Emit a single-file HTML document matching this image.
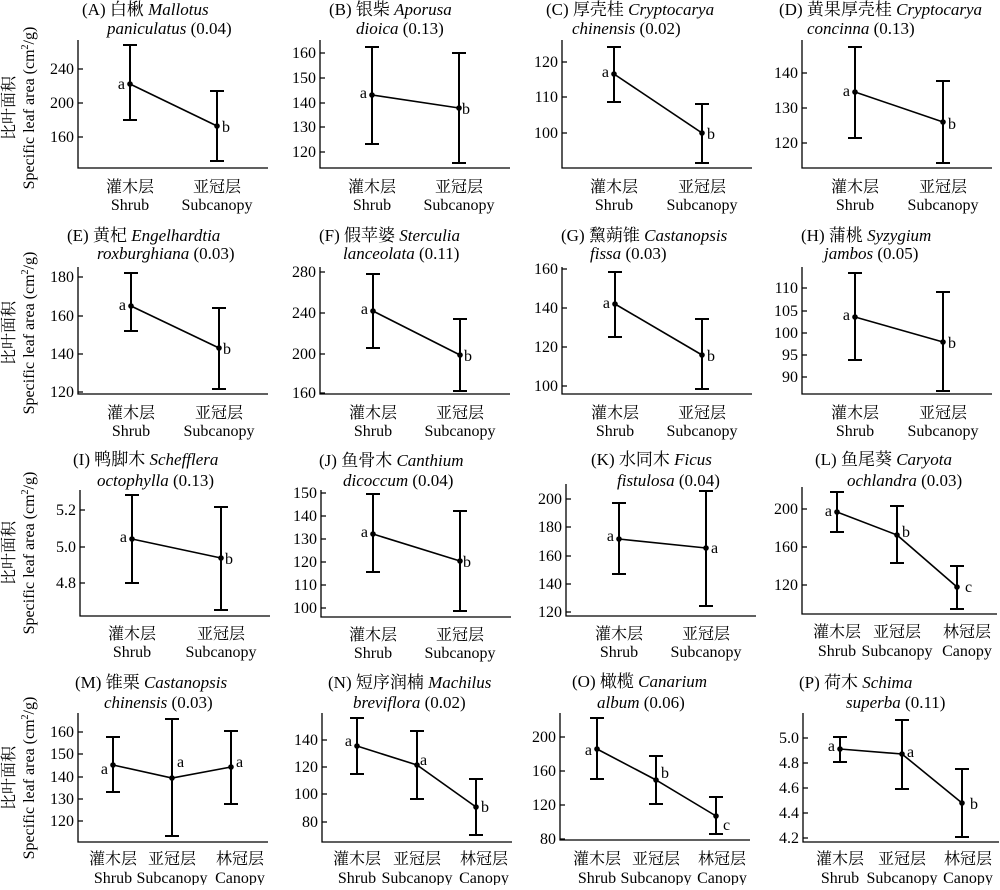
<!DOCTYPE html>
<html><head><meta charset="utf-8"><style>
html,body{margin:0;padding:0;background:#fff}
svg text{font-family:"Liberation Serif","Noto Serif CJK SC",serif;font-size:16px;fill:#000}
svg text.h{font-size:17px}
.t{text-anchor:end}
.m{text-anchor:middle}
.ax{fill:none;stroke:#000;stroke-width:1.3}
.eb{fill:none;stroke:#000;stroke-width:2}
.ln{fill:none;stroke:#000;stroke-width:1.6}
</style></head><body>
<svg width="1000" height="885" viewBox="0 0 1000 885" xmlns="http://www.w3.org/2000/svg">
<g class="m">
<text class="m" transform="translate(14,108) rotate(-90)">比叶面积</text>
<text class="m" transform="translate(34,108) rotate(-90)">Specific leaf area (cm<tspan font-size="10" dy="-6">2</tspan><tspan dy="6">/g)</tspan></text>
<text class="m" transform="translate(14,333) rotate(-90)">比叶面积</text>
<text class="m" transform="translate(34,333) rotate(-90)">Specific leaf area (cm<tspan font-size="10" dy="-6">2</tspan><tspan dy="6">/g)</tspan></text>
<text class="m" transform="translate(14,553) rotate(-90)">比叶面积</text>
<text class="m" transform="translate(34,553) rotate(-90)">Specific leaf area (cm<tspan font-size="10" dy="-6">2</tspan><tspan dy="6">/g)</tspan></text>
<text class="m" transform="translate(14,778) rotate(-90)">比叶面积</text>
<text class="m" transform="translate(34,778) rotate(-90)">Specific leaf area (cm<tspan font-size="10" dy="-6">2</tspan><tspan dy="6">/g)</tspan></text>
</g>

<!-- A -->
<text class="h" x="82" y="15">(A) 白楸 <tspan font-style="italic">Mallotus</tspan></text>
<text class="h" x="107" y="34"><tspan font-style="italic">paniculatus</tspan> (0.04)</text>
<path class="ax" d="M78,40V168H268M78,69h5M78,103h5M78,137h5"/>
<text class="t" x="74" y="74">240</text><text class="t" x="74" y="108">200</text><text class="t" x="74" y="142">160</text>
<path class="eb" d="M130,45V120M123,45h14M123,120h14M217,91V161M210,91h14M210,161h14"/>
<path class="ln" d="M130,84L217,126"/><circle cx="130" cy="84" r="2.8"/><circle cx="217" cy="126" r="2.8"/>
<text class="t" x="125" y="89">a</text><text x="222" y="132">b</text>
<text class="m" x="130" y="192">灌木层</text><text class="m" x="130" y="210">Shrub</text>
<text class="m" x="217" y="192">亚冠层</text><text class="m" x="217" y="210">Subcanopy</text>

<!-- B -->
<text class="h" x="329" y="15">(B) 银柴 <tspan font-style="italic">Aporusa</tspan></text>
<text class="h" x="356" y="34"><tspan font-style="italic">dioica</tspan> (0.13)</text>
<path class="ax" d="M320,40V168H510M320,53h5M320,78h5M320,103h5M320,127h5M320,152h5"/>
<text class="t" x="316" y="58">160</text><text class="t" x="316" y="83">150</text><text class="t" x="316" y="108">140</text><text class="t" x="316" y="132">130</text><text class="t" x="316" y="157">120</text>
<path class="eb" d="M372,47V144M365,47h14M365,144h14M459,53V163M452,53h14M452,163h14"/>
<path class="ln" d="M372,95L459,108"/><circle cx="372" cy="95" r="2.8"/><circle cx="459" cy="108" r="2.8"/>
<text class="t" x="367" y="98">a</text><text x="462" y="114">b</text>
<text class="m" x="372" y="192">灌木层</text><text class="m" x="372" y="210">Shrub</text>
<text class="m" x="459" y="192">亚冠层</text><text class="m" x="459" y="210">Subcanopy</text>

<!-- C -->
<text class="h" x="546" y="15">(C) 厚壳桂 <tspan font-style="italic">Cryptocarya</tspan></text>
<text class="h" x="572" y="34"><tspan font-style="italic">chinensis</tspan> (0.02)</text>
<path class="ax" d="M562,40V168H752M562,62h5M562,97h5M562,133h5"/>
<text class="t" x="558" y="67">120</text><text class="t" x="558" y="102">110</text><text class="t" x="558" y="138">100</text>
<path class="eb" d="M614,47V102M607,47h14M607,102h14M702,104V163M695,104h14M695,163h14"/>
<path class="ln" d="M614,74L702,133"/><circle cx="614" cy="74" r="2.8"/><circle cx="702" cy="133" r="2.8"/>
<text class="t" x="609" y="77">a</text><text x="707" y="139">b</text>
<text class="m" x="614" y="192">灌木层</text><text class="m" x="614" y="210">Shrub</text>
<text class="m" x="702" y="192">亚冠层</text><text class="m" x="702" y="210">Subcanopy</text>

<!-- D -->
<text class="h" x="779" y="15">(D) 黄果厚壳桂 <tspan font-style="italic">Cryptocarya</tspan></text>
<text class="h" x="807" y="34"><tspan font-style="italic">concinna</tspan> (0.13)</text>
<path class="ax" d="M802,40V168H992M802,73h5M802,108h5M802,143h5"/>
<text class="t" x="798" y="78">140</text><text class="t" x="798" y="113">130</text><text class="t" x="798" y="148">120</text>
<path class="eb" d="M855,47V138M848,47h14M848,138h14M943,81V163M936,81h14M936,163h14"/>
<path class="ln" d="M855,92L943,122"/><circle cx="855" cy="92" r="2.8"/><circle cx="943" cy="122" r="2.8"/>
<text class="t" x="850" y="96">a</text><text x="948" y="129">b</text>
<text class="m" x="855" y="192">灌木层</text><text class="m" x="855" y="210">Shrub</text>
<text class="m" x="943" y="192">亚冠层</text><text class="m" x="943" y="210">Subcanopy</text>

<!-- E -->
<text class="h" x="67" y="241">(E) 黄杞 <tspan font-style="italic">Engelhardtia</tspan></text>
<text class="h" x="97" y="259"><tspan font-style="italic">roxburghiana</tspan> (0.03)</text>
<path class="ax" d="M78,267V394H268M78,277h5M78,316h5M78,354h5M78,392h5"/>
<text class="t" x="74" y="282">180</text><text class="t" x="74" y="321">160</text><text class="t" x="74" y="359">140</text><text class="t" x="74" y="397">120</text>
<path class="eb" d="M131,273V331M124,273h14M124,331h14M219,308V389M212,308h14M212,389h14"/>
<path class="ln" d="M131,306L219,348"/><circle cx="131" cy="306" r="2.8"/><circle cx="219" cy="348" r="2.8"/>
<text class="t" x="126" y="310">a</text><text x="223" y="354">b</text>
<text class="m" x="131" y="418">灌木层</text><text class="m" x="131" y="436">Shrub</text>
<text class="m" x="219" y="418">亚冠层</text><text class="m" x="219" y="436">Subcanopy</text>

<!-- F -->
<text class="h" x="319" y="241">(F) 假苹婆 <tspan font-style="italic">Sterculia</tspan></text>
<text class="h" x="343" y="259"><tspan font-style="italic">lanceolata</tspan> (0.11)</text>
<path class="ax" d="M320,267V394H510M320,272h5M320,313h5M320,354h5M320,393h5"/>
<text class="t" x="316" y="277">280</text><text class="t" x="316" y="318">240</text><text class="t" x="316" y="359">200</text><text class="t" x="316" y="398">160</text>
<path class="eb" d="M373,274V348M366,274h14M366,348h14M460,319V391M453,319h14M453,391h14"/>
<path class="ln" d="M373,311L460,355"/><circle cx="373" cy="311" r="2.8"/><circle cx="460" cy="355" r="2.8"/>
<text class="t" x="368" y="314">a</text><text x="464" y="361">b</text>
<text class="m" x="373" y="418">灌木层</text><text class="m" x="373" y="436">Shrub</text>
<text class="m" x="460" y="418">亚冠层</text><text class="m" x="460" y="436">Subcanopy</text>

<!-- G -->
<text class="h" x="561" y="241">(G) 黧蒴锥 <tspan font-style="italic">Castanopsis</tspan></text>
<text class="h" x="590" y="259"><tspan font-style="italic">fissa</tspan> (0.03)</text>
<path class="ax" d="M562,267V394H752M562,269h5M562,308h5M562,347h5M562,386h5"/>
<text class="t" x="558" y="274">160</text><text class="t" x="558" y="313">140</text><text class="t" x="558" y="352">120</text><text class="t" x="558" y="391">100</text>
<path class="eb" d="M615,272V337M608,272h14M608,337h14M702,319V389M695,319h14M695,389h14"/>
<path class="ln" d="M615,304L702,355"/><circle cx="615" cy="304" r="2.8"/><circle cx="702" cy="355" r="2.8"/>
<text class="t" x="610" y="308">a</text><text x="707" y="361">b</text>
<text class="m" x="615" y="418">灌木层</text><text class="m" x="615" y="436">Shrub</text>
<text class="m" x="702" y="418">亚冠层</text><text class="m" x="702" y="436">Subcanopy</text>

<!-- H -->
<text class="h" x="801" y="241">(H) 蒲桃 <tspan font-style="italic">Syzygium</tspan></text>
<text class="h" x="824" y="259"><tspan font-style="italic">jambos</tspan> (0.05)</text>
<path class="ax" d="M802,267V394H992M802,288h5M802,311h5M802,333h5M802,355h5M802,377h5"/>
<text class="t" x="798" y="293">110</text><text class="t" x="798" y="316">105</text><text class="t" x="798" y="338">100</text><text class="t" x="798" y="360">95</text><text class="t" x="798" y="382">90</text>
<path class="eb" d="M855,273V360M848,273h14M848,360h14M943,292V391M936,292h14M936,391h14"/>
<path class="ln" d="M855,317L943,342"/><circle cx="855" cy="317" r="2.8"/><circle cx="943" cy="342" r="2.8"/>
<text class="t" x="850" y="320">a</text><text x="948" y="348">b</text>
<text class="m" x="855" y="418">灌木层</text><text class="m" x="855" y="436">Shrub</text>
<text class="m" x="943" y="418">亚冠层</text><text class="m" x="943" y="436">Subcanopy</text>

<!-- I -->
<text class="h" x="73" y="465">(I) 鸭脚木 <tspan font-style="italic">Schefflera</tspan></text>
<text class="h" x="97" y="486"><tspan font-style="italic">octophylla</tspan> (0.13)</text>
<path class="ax" d="M80,490V616H270M80,510h5M80,547h5M80,583h5"/>
<text class="t" x="76" y="515">5.2</text><text class="t" x="76" y="552">5.0</text><text class="t" x="76" y="588">4.8</text>
<path class="eb" d="M132,495V583M125,495h14M125,583h14M221,507V610M214,507h14M214,610h14"/>
<path class="ln" d="M132,539L221,558"/><circle cx="132" cy="539" r="2.8"/><circle cx="221" cy="558" r="2.8"/>
<text class="t" x="127" y="542">a</text><text x="225" y="564">b</text>
<text class="m" x="132" y="639">灌木层</text><text class="m" x="132" y="657">Shrub</text>
<text class="m" x="221" y="639">亚冠层</text><text class="m" x="221" y="657">Subcanopy</text>

<!-- J -->
<text class="h" x="319" y="466">(J) 鱼骨木 <tspan font-style="italic">Canthium</tspan></text>
<text class="h" x="343" y="486"><tspan font-style="italic">dicoccum</tspan> (0.04)</text>
<path class="ax" d="M321,490V617H511M321,493h5M321,516h5M321,539h5M321,562h5M321,585h5M321,608h5"/>
<text class="t" x="317" y="498">150</text><text class="t" x="317" y="521">140</text><text class="t" x="317" y="544">130</text><text class="t" x="317" y="567">120</text><text class="t" x="317" y="590">110</text><text class="t" x="317" y="613">100</text>
<path class="eb" d="M373,494V572M366,494h14M366,572h14M460,511V611M453,511h14M453,611h14"/>
<path class="ln" d="M373,534L460,561"/><circle cx="373" cy="534" r="2.8"/><circle cx="460" cy="561" r="2.8"/>
<text class="t" x="368" y="537">a</text><text x="463" y="567">b</text>
<text class="m" x="373" y="640">灌木层</text><text class="m" x="373" y="658">Shrub</text>
<text class="m" x="460" y="640">亚冠层</text><text class="m" x="460" y="658">Subcanopy</text>

<!-- K -->
<text class="h" x="591" y="465">(K) 水同木 <tspan font-style="italic">Ficus</tspan></text>
<text class="h" x="617" y="486"><tspan font-style="italic">fistulosa</tspan> (0.04)</text>
<path class="ax" d="M566,484V616H756M566,499h5M566,527h5M566,556h5M566,584h5M566,612h5"/>
<text class="t" x="562" y="504">200</text><text class="t" x="562" y="532">180</text><text class="t" x="562" y="561">160</text><text class="t" x="562" y="589">140</text><text class="t" x="562" y="617">120</text>
<path class="eb" d="M619,503V574M612,503h14M612,574h14M706,491V606M699,491h14M699,606h14"/>
<path class="ln" d="M619,539L706,548"/><circle cx="619" cy="539" r="2.8"/><circle cx="706" cy="548" r="2.8"/>
<text class="t" x="614" y="541">a</text><text x="711" y="553">a</text>
<text class="m" x="619" y="639">灌木层</text><text class="m" x="619" y="657">Shrub</text>
<text class="m" x="706" y="639">亚冠层</text><text class="m" x="706" y="657">Subcanopy</text>

<!-- L -->
<text class="h" x="815" y="465">(L) 鱼尾葵 <tspan font-style="italic">Caryota</tspan></text>
<text class="h" x="847" y="486"><tspan font-style="italic">ochlandra</tspan> (0.03)</text>
<path class="ax" d="M802,487V614H997M802,509h5M802,547h5M802,585h5"/>
<text class="t" x="798" y="514">200</text><text class="t" x="798" y="552">160</text><text class="t" x="798" y="590">120</text>
<path class="eb" d="M837,492V532M830,492h14M830,532h14M897,506V563M890,506h14M890,563h14M957,566V609M950,566h14M950,609h14"/>
<path class="ln" d="M837,512L897,535L957,587"/><circle cx="837" cy="512" r="2.8"/><circle cx="897" cy="535" r="2.8"/><circle cx="957" cy="587" r="2.8"/>
<text class="t" x="832" y="516">a</text><text x="902" y="537">b</text><text x="965" y="592">c</text>
<text class="m" x="837" y="637">灌木层</text><text class="m" x="837" y="656">Shrub</text>
<text class="m" x="897" y="637">亚冠层</text><text class="m" x="897" y="656">Subcanopy</text>
<text class="m" x="967" y="637">林冠层</text><text class="m" x="967" y="656">Canopy</text>

<!-- M -->
<text class="h" x="75" y="688">(M) 锥栗 <tspan font-style="italic">Castanopsis</tspan></text>
<text class="h" x="104" y="708"><tspan font-style="italic">chinensis</tspan> (0.03)</text>
<path class="ax" d="M78,713V842H268M78,732h5M78,754h5M78,777h5M78,799h5M78,821h5"/>
<text class="t" x="74" y="737">160</text><text class="t" x="74" y="759">150</text><text class="t" x="74" y="782">140</text><text class="t" x="74" y="804">130</text><text class="t" x="74" y="826">120</text>
<path class="eb" d="M113,737V792M106,737h14M106,792h14M172,719V836M165,719h14M165,836h14M231,731V804M224,731h14M224,804h14"/>
<path class="ln" d="M113,765L172,778L231,767"/><circle cx="113" cy="765" r="2.8"/><circle cx="172" cy="778" r="2.8"/><circle cx="231" cy="767" r="2.8"/>
<text class="t" x="108" y="774">a</text><text x="177" y="767">a</text><text x="236" y="767">a</text>
<text class="m" x="113" y="864">灌木层</text><text class="m" x="113" y="883">Shrub</text>
<text class="m" x="172" y="864">亚冠层</text><text class="m" x="172" y="883">Subcanopy</text>
<text class="m" x="240" y="864">林冠层</text><text class="m" x="240" y="883">Canopy</text>

<!-- N -->
<text class="h" x="328" y="688">(N) 短序润楠 <tspan font-style="italic">Machilus</tspan></text>
<text class="h" x="353" y="708"><tspan font-style="italic">breviflora</tspan> (0.02)</text>
<path class="ax" d="M322,713V842H512M322,740h5M322,767h5M322,794h5M322,822h5"/>
<text class="t" x="318" y="745">140</text><text class="t" x="318" y="772">120</text><text class="t" x="318" y="799">100</text><text class="t" x="318" y="827">80</text>
<path class="eb" d="M357,718V774M350,718h14M350,774h14M417,731V799M410,731h14M410,799h14M476,779V835M469,779h14M469,835h14"/>
<path class="ln" d="M357,746L417,765L476,807"/><circle cx="357" cy="746" r="2.8"/><circle cx="417" cy="765" r="2.8"/><circle cx="476" cy="807" r="2.8"/>
<text class="t" x="352" y="746">a</text><text x="420" y="765">a</text><text x="481" y="812">b</text>
<text class="m" x="357" y="864">灌木层</text><text class="m" x="357" y="883">Shrub</text>
<text class="m" x="417" y="864">亚冠层</text><text class="m" x="417" y="883">Subcanopy</text>
<text class="m" x="484" y="864">林冠层</text><text class="m" x="484" y="883">Canopy</text>

<!-- O -->
<text class="h" x="572" y="687">(O) 橄榄 <tspan font-style="italic">Canarium</tspan></text>
<text class="h" x="597" y="708"><tspan font-style="italic">album</tspan> (0.06)</text>
<path class="ax" d="M560,713V840H750M560,737h5M560,771h5M560,805h5M560,839h5"/>
<text class="t" x="556" y="742">200</text><text class="t" x="556" y="776">160</text><text class="t" x="556" y="810">120</text><text class="t" x="556" y="844">80</text>
<path class="eb" d="M597,718V779M590,718h14M590,779h14M656,756V804M649,756h14M649,804h14M716,797V834M709,797h14M709,834h14"/>
<path class="ln" d="M597,749L656,780L716,816"/><circle cx="597" cy="749" r="2.8"/><circle cx="656" cy="780" r="2.8"/><circle cx="716" cy="816" r="2.8"/>
<text class="t" x="592" y="755">a</text><text x="661" y="778">b</text><text x="723" y="830">c</text>
<text class="m" x="597" y="864">灌木层</text><text class="m" x="597" y="883">Shrub</text>
<text class="m" x="656" y="864">亚冠层</text><text class="m" x="656" y="883">Subcanopy</text>
<text class="m" x="722" y="864">林冠层</text><text class="m" x="722" y="883">Canopy</text>

<!-- P -->
<text class="h" x="799" y="688">(P) 荷木 <tspan font-style="italic">Schima</tspan></text>
<text class="h" x="846" y="708"><tspan font-style="italic">superba</tspan> (0.11)</text>
<path class="ax" d="M803,713V842H999M803,738h5M803,763h5M803,788h5M803,813h5M803,838h5"/>
<text class="t" x="799" y="743">5.0</text><text class="t" x="799" y="768">4.8</text><text class="t" x="799" y="793">4.6</text><text class="t" x="799" y="818">4.4</text><text class="t" x="799" y="843">4.2</text>
<path class="eb" d="M840,737V762M833,737h14M833,762h14M902,720V789M895,720h14M895,789h14M962,769V837M955,769h14M955,837h14"/>
<path class="ln" d="M840,749L902,754L962,803"/><circle cx="840" cy="749" r="2.8"/><circle cx="902" cy="754" r="2.8"/><circle cx="962" cy="803" r="2.8"/>
<text class="t" x="835" y="751">a</text><text x="907" y="757">a</text><text x="970" y="809">b</text>
<text class="m" x="840" y="864">灌木层</text><text class="m" x="840" y="883">Shrub</text>
<text class="m" x="902" y="864">亚冠层</text><text class="m" x="902" y="883">Subcanopy</text>
<text class="m" x="968" y="864">林冠层</text><text class="m" x="968" y="883">Canopy</text>
</svg>
</body></html>
